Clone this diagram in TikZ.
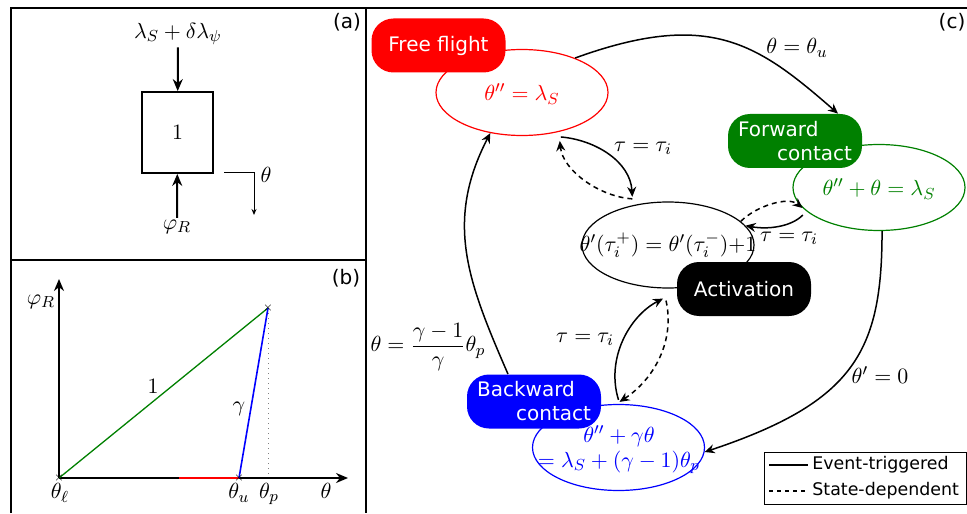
\documentclass[tikz,border=0pt]{standalone}
\usepackage[no-math]{fontspec}
\setmainfont{DejaVu Sans}
\usetikzlibrary{shapes.geometric,arrows.meta,calc}
\definecolor{cgreen}{RGB}{0,128,0}
\definecolor{cblue}{RGB}{0,0,255}
\definecolor{cred}{RGB}{255,0,0}
\newcommand{\mysz}{\fontsize{11}{13}\selectfont}
\begin{document}
\begin{tikzpicture}[x=0.5pt,y=-0.5pt,
  panel/.style={line width=1pt},
  sbox/.style={rounded corners=11pt,minimum width=67pt,minimum height=27pt,inner sep=0pt,text=white,font=\fontsize{10}{12}\selectfont,align=left},
  sell/.style={ellipse,draw,line width=0.6pt,minimum width=86pt,minimum height=43pt,inner sep=0pt},
  mlab/.style={font=\mysz,inner sep=1pt},
  conn/.style={line width=0.75pt,-{Stealth[length=5pt,width=4.5pt]}},
  sdep/.style={conn,dash pattern=on 2.5pt off 2pt},
  bigarr/.style={line width=1pt,-{Stealth[length=6pt,width=5pt]}},
  plab/.style={font=\fontsize{10}{12}\selectfont,inner sep=0pt},
  xmark/.style={font=\fontsize{5}{5}\selectfont,inner sep=0pt}
]
\useasboundingbox (0,0) rectangle (967,513);
% panel frames
\draw[panel] (11,513) -- (11,8) -- (967,8);
\draw[panel] (366,8) -- (366,513);
\draw[panel] (11,260) -- (366,260);
\node[plab] (la) at (347,22) {(a)};
\node[plab] (lb) at (346,278) {(b)};
\node[plab] (lc) at (952,22) {(c)};

% ---------- panel (a)
\node[draw,line width=0.9pt,minimum width=35.5pt,minimum height=40.5pt,inner sep=0pt,font=\mysz] (boxa) at (177.5,132.5) {$1$};
\node[mlab] (lam) at (178,34) {$\lambda_S+\delta\lambda_\psi$};
\node[mlab] (phi) at (177,227) {$\varphi_R$};
\draw[bigarr] (lam) -- (boxa);
\draw[bigarr] (phi) -- (boxa);
\coordinate (t1) at (224,173);
\coordinate (t2) at (254,173);
\coordinate (t3) at (254,215);
\draw[line width=0.5pt,-{Stealth[length=3pt,width=2.5pt]}] (t1) -- (t2) -- (t3);
\node[mlab] (tha) at (266,175) {$\theta$};

% ---------- panel (b)
\coordinate (O) at (59,478);
\coordinate (Yt) at (59,279);
\coordinate (Xt) at (348,478);
\coordinate (P) at (268,308);
\coordinate (U) at (239,478);
\coordinate (Lr) at (179,478);
\coordinate (Pb) at (268,478);
\draw[gray,line width=0.5pt,dotted] (P) -- (Pb);
\draw[bigarr] (O) -- (Yt);
\draw[bigarr] (O) -- (Xt);
\draw[cred,line width=1pt] (Lr) -- (U);
\draw[cgreen,line width=0.65pt] (O) -- (P);
\draw[cblue,line width=0.8pt] (P) -- (U);
\node[xmark] (mO) at (O) {$\times$};
\node[xmark] (mP) at (P) {$\times$};
\node[xmark] (mU) at (U) {$\times$};
\node[mlab] (lphi) at (41,302) {$\varphi_R$};
\node[mlab] (lthl) at (60,493) {$\theta_\ell$};
\node[mlab] (lthu) at (239,493) {$\theta_u$};
\node[mlab] (lthp) at (269,494) {$\theta_p$};
\node[mlab] (lth) at (326,491) {$\theta$};
\node[mlab] (lone) at (153,386) {$1$};
\node[mlab] (lgam) at (239,409) {$\gamma$};

% ---------- panel (c)
\node[sell,draw=cred] (ffe) at (522,92.5) {};
\node[sell,draw=cgreen] (fce) at (879,187.5) {};
\node[sell] (ae) at (668,245) {};
\node[sell,draw=cblue] (bbe) at (618.5,447.5) {};
\node[mlab,text=cred] (ffet) at (522,94) {$\theta''=\lambda_S$};
\node[mlab,text=cgreen] (fcet) at (879,189) {$\theta''+\theta=\lambda_S$};
\node[mlab] (aet) at (668,245) {$\theta'(\tau_i^+)=\theta'(\tau_i^-)\mathord{+}1$};
\node[mlab,text=cblue,align=center,font=\fontsize{11}{12.3}\selectfont] (bbet) at (619,450) {$\theta''+\gamma\theta$\\$=\lambda_S+(\gamma-1)\theta_p$};

\node[sbox,fill=cred] (ffb) at (438.5,45.5) {Free flight};
\node[sbox,fill=cgreen] (fcb) at (795,141) {Forward\\\hspace*{19.5pt}contact};
\node[sbox,fill=black] (ab) at (744,289) {Activation};
\node[sbox,fill=cblue] (bcb) at (534,401.5) {Backward\\\hspace*{19.5pt}contact};

% event-triggered transitions
\draw[conn] (ffe.33) .. controls +(135,-49) and +(-80,-69.6) .. ($(fcb.north)+(43,0)$);
\draw[conn] (fce.-86) .. controls +(0,120) and +(150,-50) .. (bbe.-3);
\draw[conn] ($(bcb.north)+(-26,0)$) .. controls +(-40,-92) and +(-46,89) .. (ffe.-128);
% activation transitions
\draw[conn] ($(ffe.-47)+(2,5)$) .. controls +(35,3) and +(-2,-35) .. ($(ae.130)+(-2,-8)$);
\draw[sdep] ($(ae.130)+(-2,-6)$) .. controls +(-32,-2) and +(3,30) .. ($(ffe.-47)+(1,9)$);
\draw[sdep] (ae.18) .. controls +(15,-15) and +(-15,-12) .. (fce.195);
\draw[conn] ($(fce.200)+(-6,2)$) .. controls +(-12,12) and +(22,4) .. (ae.14);
\draw[conn] ($(bbe.north)+(0,-4)$) .. controls +(-13,-42) and +(-33,17) .. ($(ae.south)+(-5,10)$);
\draw[sdep] ($(ae.south)+(-2,12)$) .. controls +(9,40) and +(35,-23) .. ($(bbe.north)+(1,-2)$);

\node[mlab] (c1l) at (797,48) {$\theta=\theta_u$};
\node[mlab] (c2l) at (880,375) {$\theta'=0$};
\node[mlab] (c3l) at (428,347) {$\displaystyle\theta=\frac{\gamma-1}{\gamma}\theta_p$};
\node[mlab] (c4l) at (643,148) {$\tau=\tau_i$};
\node[mlab] (c5l) at (789,238) {$\tau=\tau_i$};
\node[mlab] (c6l) at (585,339) {$\tau=\tau_i$};

% legend
\node[draw,line width=0.5pt,minimum width=101pt,minimum height=26pt,inner sep=0pt] (leg) at (865,478) {};
\coordinate (l1a) at (769,465);
\coordinate (l1b) at (808,465);
\coordinate (l2a) at (769,491);
\coordinate (l2b) at (808,491);
\draw[line width=0.75pt] (l1a) -- (l1b);
\draw[line width=0.75pt,dash pattern=on 2pt off 2pt] (l2a) -- (l2b);
\node[anchor=west,inner sep=0pt,font=\fontsize{8.7}{10}\selectfont] (lt1) at (812,465) {Event-triggered};
\node[anchor=west,inner sep=0pt,font=\fontsize{8.7}{10}\selectfont] (lt2) at (812,491) {State-dependent};
\end{tikzpicture}
\end{document}
